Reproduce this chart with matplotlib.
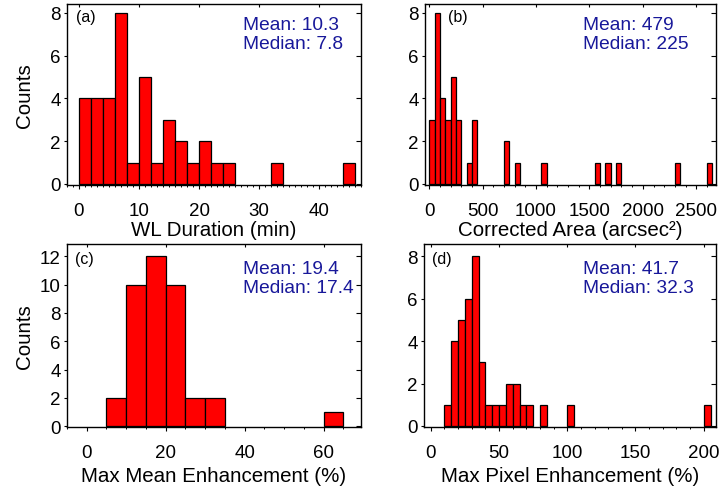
import matplotlib
matplotlib.use("Agg")
import matplotlib.pyplot as plt
from matplotlib.ticker import MultipleLocator

plt.rcParams['font.family'] = ['Liberation Sans', 'DejaVu Sans']

# ---- data (bin left edges, bin widths, counts) ----
a_left = [0, 2, 4, 6, 8, 10, 12, 14, 16, 18, 20, 22, 24, 32, 44]
a_counts = [4, 4, 4, 8, 1, 5, 1, 3, 2, 1, 2, 1, 1, 1, 1]
a_width = 2

b_left = [0, 50, 100, 150, 200, 250, 350, 400, 700, 800, 1050, 1550, 1650, 1750, 2300, 2600]
b_counts = [3, 8, 4, 3, 5, 3, 1, 3, 2, 1, 1, 1, 1, 1, 1, 1]
b_width = 50

c_left = [5, 10, 15, 20, 25, 30, 60]
c_counts = [2, 10, 12, 10, 2, 2, 1]
c_width = 5

d_left = [10, 15, 20, 25, 30, 35, 40, 45, 50, 55, 60, 65, 70, 80, 100, 200]
d_counts = [1, 4, 5, 6, 8, 3, 1, 1, 1, 2, 2, 1, 1, 1, 1, 1]
d_width = 5

xlabels = ["WL Duration (min)", "Corrected Area (arcsec\u00b2)",
           "Max Mean Enhancement (%)", "Max Pixel Enhancement (%)"]
panel_tags = ["(a)", "(b)", "(c)", "(d)"]
means = ["10.3", "479", "19.4", "41.7"]
medians = ["7.8", "225", "17.4", "32.3"]

fig = plt.figure(figsize=(7.2, 4.89), dpi=100)
W, H = 720, 489

def rect(l, r, t, b):
    return [l / W, 1 - b / H, (r - l) / W, (b - t) / H]

axes = [
    fig.add_axes(rect(67, 361, 5, 186)),
    fig.add_axes(rect(425, 716, 5, 186)),
    fig.add_axes(rect(67, 361, 245, 428)),
    fig.add_axes(rect(424, 716, 245, 428)),
]

datasets = [(a_left, a_counts, a_width), (b_left, b_counts, b_width),
            (c_left, c_counts, c_width), (d_left, d_counts, d_width)]
xlims = [(-2, 47), (-40, 2685), (-5, 69.5), (-5, 209)]
ylims = [(-0.05, 8.42), (-0.05, 8.42), (-0.05, 12.86), (-0.05, 8.58)]
xminor = [1, 100, 5, 10]
yticks = [[0, 2, 4, 6, 8], [0, 2, 4, 6, 8], [0, 2, 4, 6, 8, 10, 12], [0, 2, 4, 6, 8]]
xticks = [[0, 10, 20, 30, 40], [0, 500, 1000, 1500, 2000, 2500], [0, 20, 40, 60], [0, 50, 100, 150, 200]]
text_x = [0.598, 0.542, 0.598, 0.546]
text_y = [0.935, 0.935, 0.915, 0.915]
tag_pos = [(0.03, 0.975), (0.08, 0.975), (0.027, 0.96), (0.027, 0.96)]
labelpads = [1, 1, 4, 4]

txt_color = '#18189a'

for i, ax in enumerate(axes):
    left, counts, width = datasets[i]
    ax.bar(left, counts, width=width, align='edge', color='#ff0000',
           edgecolor='black', linewidth=0.9, zorder=2)
    ax.set_xlim(*xlims[i])
    ax.set_ylim(*ylims[i])
    ax.set_xticks(xticks[i])
    ax.xaxis.set_minor_locator(MultipleLocator(xminor[i]))
    ax.set_yticks(yticks[i])
    for s in ax.spines.values():
        s.set_linewidth(1.0)
        s.set_color('black')
    ax.tick_params(axis='x', which='major', direction='out', length=3, width=0.8,
                   pad=9, labelsize=13.5, top=False)
    ax.tick_params(axis='x', which='minor', direction='out', length=1.6, width=0.7, top=False)
    ax.tick_params(axis='y', which='major', direction='out', length=2.5, width=0.8,
                   pad=2, labelsize=13.5, right=False)
    # mirrored inward ticks on top and right
    sec_x = ax.secondary_xaxis('top')
    sec_x.set_xticks(xticks[i])
    sec_x.tick_params(direction='in', length=2.5, width=0.8, labeltop=False)
    sec_y = ax.secondary_yaxis('right')
    sec_y.set_yticks(yticks[i])
    sec_y.tick_params(direction='in', length=3.5, width=0.8, labelright=False)
    sec_x.spines['top'].set_visible(False)
    sec_y.spines['right'].set_visible(False)

    ax.set_xlabel(xlabels[i], fontsize=14.8, labelpad=labelpads[i])
    if i in (0, 2):
        ax.set_ylabel("Counts", fontsize=14.8)
        ax.yaxis.set_label_coords(-0.112, 0.5)

    ax.text(tag_pos[i][0], tag_pos[i][1], panel_tags[i], transform=ax.transAxes,
            ha='left', va='top', fontsize=11.5)
    ax.text(text_x[i], text_y[i], "Mean: " + means[i] + "\nMedian: " + medians[i],
            transform=ax.transAxes, ha='left', va='top', fontsize=13.8,
            color=txt_color, linespacing=1.15)

fig.savefig("out.png", dpi=100)
